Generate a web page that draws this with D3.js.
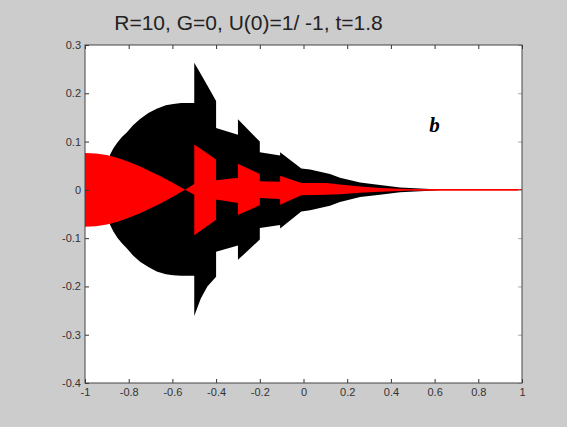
<!DOCTYPE html>
<html>
<head>
<meta charset="utf-8">
<script src="https://cdn.jsdelivr.net/npm/d3@7"></script>
<style>
  body { margin: 0; background: #cccccc; }
  svg { display: block; }
</style>
</head>
<body>
<div class="chart"></div>
<script>
var titleText = 'R=10, G=0, U(0)=1/ -1, t=1.8'
var panelLabel = 'b'
var xTicks = [-1, -0.8, -0.6, -0.4, -0.2, 0, 0.2, 0.4, 0.6, 0.8, 1]
var yTicks = [-0.4, -0.3, -0.2, -0.1, 0, 0.1, 0.2, 0.3]

// black envelope (outer solution)
var blackX      = [-0.886, -0.87, -0.85, -0.83, -0.809, -0.78, -0.748, -0.71, -0.672, -0.63, -0.596, -0.56, -0.5, -0.5, -0.47, -0.44, -0.4, -0.4, -0.3, -0.3, -0.2, -0.2, -0.107, -0.107, -0.01, 0.03, 0.121, 0.167, 0.259, 0.35, 0.442, 0.579, 0.64]
var blackTop    = [0.072, 0.086, 0.099, 0.110, 0.119, 0.134, 0.147, 0.159, 0.168, 0.175, 0.178, 0.180, 0.180, 0.263, 0.240, 0.216, 0.184, 0.128, 0.114, 0.146, 0.100, 0.078, 0.071, 0.078, 0.044, 0.042, 0.033, 0.025, 0.015, 0.010, 0.005, 0.002, 0]
var blackBottom = [-0.072, -0.086, -0.100, -0.111, -0.121, -0.136, -0.149, -0.160, -0.169, -0.175, -0.177, -0.178, -0.178, -0.261, -0.225, -0.200, -0.180, -0.128, -0.115, -0.145, -0.103, -0.079, -0.073, -0.080, -0.045, -0.042, -0.033, -0.025, -0.015, -0.010, -0.005, -0.002, 0]

// red envelope (inner solution)
var redX      = [-1, -0.95, -0.9, -0.85, -0.8, -0.75, -0.7, -0.65, -0.6, -0.542, -0.5, -0.5, -0.4, -0.4, -0.3, -0.3, -0.2, -0.2, -0.107, -0.107, -0.01, 0.106, 0.167, 0.26, 0.35, 0.44, 0.53, 0.6]
var redTop    = [0.0765, 0.0755, 0.072, 0.066, 0.058, 0.049, 0.038, 0.027, 0.015, 0, 0.012, 0.094, 0.063, 0.020, 0.025, 0.054, 0.033, 0.018, 0.017, 0.029, 0.014, 0.014, 0.011, 0.007, 0.004, 0.0025, 0.001, 0]
var redBottom = [-0.0765, -0.0755, -0.072, -0.066, -0.058, -0.049, -0.038, -0.027, -0.015, 0, -0.010, -0.094, -0.062, -0.020, -0.027, -0.052, -0.032, -0.017, -0.019, -0.031, -0.011, -0.010, -0.009, -0.006, -0.004, -0.0025, -0.001, 0]
var redTailX = [0.5, 1]

var margin = { top: 45, right: 45, bottom: 44, left: 85 }
var width = 567 - margin.left - margin.right
var height = 427 - margin.top - margin.bottom

var root = d3.select('.chart')
  .append('svg')
    .attr('width', 567)
    .attr('height', 427)

root.append('rect')
  .attr('width', 567)
  .attr('height', 427)
  .attr('fill', '#cccccc')

var svg = root.append('g')
  .attr('transform', `translate(${margin.left}, ${margin.top})`)

svg.append('rect')
  .attr('width', width)
  .attr('height', height)
  .attr('fill', 'white')

var xScale = d3.scaleLinear().domain([-1, 1]).range([0, width])
var yScale = d3.scaleLinear().domain([-0.4, 0.3]).range([height, 0])

var blackArea = d3.area()
  .x((d, i) => xScale(blackX[i]))
  .y0((d, i) => yScale(blackBottom[i]))
  .y1((d, i) => yScale(blackTop[i]))

var redArea = d3.area()
  .x((d, i) => xScale(redX[i]))
  .y0((d, i) => yScale(redBottom[i]))
  .y1((d, i) => yScale(redTop[i]))

svg.append('path')
  .attr('d', blackArea(blackX))
  .attr('fill', 'black')

svg.append('path')
  .attr('d', redArea(redX))
  .attr('fill', '#ff0000')

svg.append('path')
  .attr('d', d3.line().x(d => xScale(d)).y(yScale(0))(redTailX))
  .attr('stroke', '#ff0000')
  .attr('stroke-width', 1.6)
  .attr('fill', 'none')

// MATLAB-ish tick labels: plain hyphen, no trailing zeros
var fmt = d => String(+d.toFixed(1))

var xAxis = d3.axisBottom(xScale)
  .tickValues(xTicks)
  .tickFormat(fmt)
  .tickSizeInner(-4)
  .tickSizeOuter(0)
  .tickPadding(5)

var yAxis = d3.axisLeft(yScale)
  .tickValues(yTicks)
  .tickFormat(fmt)
  .tickSizeInner(-4)
  .tickSizeOuter(0)
  .tickPadding(4)

svg.append('g')
  .attr('transform', `translate(0, ${height})`)
  .call(xAxis)

svg.append('g').call(yAxis)

svg.append('g')
  .call(d3.axisTop(xScale).tickValues(xTicks).tickFormat('').tickSizeInner(-4).tickSizeOuter(0))

var gr = svg.append('g')
  .attr('transform', `translate(${width}, 0)`)
  .call(d3.axisRight(yScale).tickValues(yTicks).tickFormat('').tickSizeInner(-4).tickSizeOuter(0))

svg.selectAll('.domain').remove()
svg.selectAll('.tick line').attr('stroke', '#333')
gr.selectAll('.tick line').attr('stroke', '#aaa')

svg.selectAll('.tick text')
  .attr('fill', '#333')
  .style('font-family', 'Arial, "Liberation Sans", sans-serif')
  .style('font-size', '11px')

// axes box
svg.append('rect')
  .attr('width', width)
  .attr('height', height)
  .attr('fill', 'none')
  .attr('stroke', '#444')
  .attr('stroke-width', 1)

root.append('text')
  .attr('x', 248.5)
  .attr('y', 30)
  .attr('text-anchor', 'middle')
  .attr('fill', '#222')
  .style('font-family', 'Arial, "Liberation Sans", sans-serif')
  .style('font-size', '21px')
  .text(titleText)

svg.append('text')
  .attr('x', xScale(0.6))
  .attr('y', yScale(0.12))
  .attr('text-anchor', 'middle')
  .style('font-family', '"Liberation Serif", "Times New Roman", serif')
  .style('font-style', 'italic')
  .style('font-weight', 'bold')
  .style('font-size', '21px')
  .text(panelLabel)
</script>
</body>
</html>
